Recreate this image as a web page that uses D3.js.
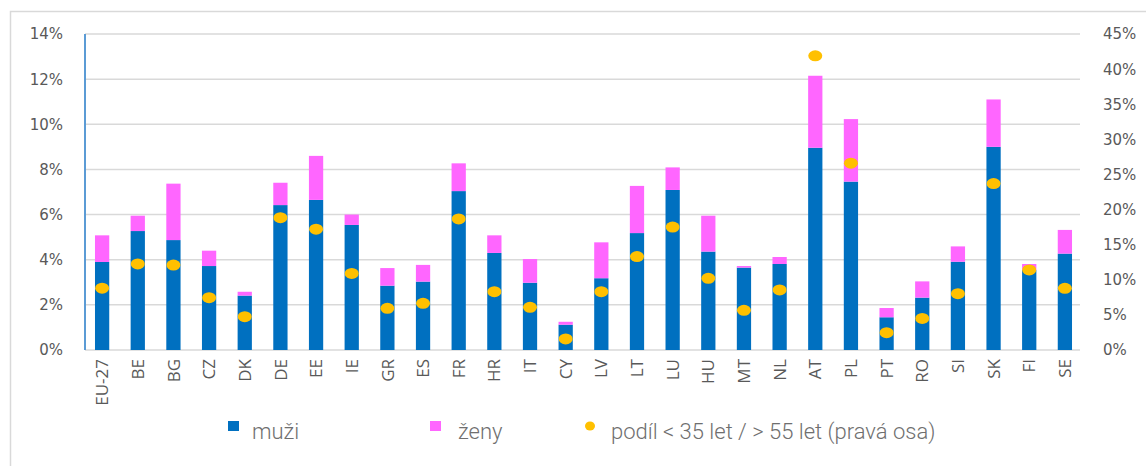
<!DOCTYPE html>
<html>
<head>
<meta charset="utf-8">
<script src="https://cdn.jsdelivr.net/npm/d3@7"></script>
<style>
  body { margin: 0; background: #fff; }
  .tick-label { font-family: "DejaVu Sans", Verdana, sans-serif; font-size: 15px; fill: #595959; }
  .cat-label { font-family: "Open Sans", sans-serif; font-size: 17px; fill: #595959; }
  .legend-label { font-family: "Roboto", sans-serif; font-weight: 300; font-size: 22px; fill: #6f6f6f; }
</style>
</head>
<body>
<div class="chart" style="width:1146px;height:466px"></div>
<script>
// categories and values (percent)
const countries = ["EU-27", "BE", "BG", "CZ", "DK", "DE", "EE", "IE", "GR", "ES", "FR", "HR", "IT", "CY",
    "LV", "LT", "LU", "HU", "MT", "NL", "AT", "PL", "PT", "RO", "SI", "SK", "FI", "SE"];
const muzi = [3.9, 5.27, 4.87, 3.72, 2.41, 6.42, 6.65, 5.54, 2.85, 3.03, 7.04, 4.3, 2.98, 1.12,
    3.18, 5.18, 7.09, 4.36, 3.65, 3.81, 8.96, 7.46, 1.45, 2.32, 3.91, 9.0, 3.54, 4.27];
const zeny = [1.18, 0.68, 2.5, 0.68, 0.17, 0.99, 1.95, 0.46, 0.78, 0.74, 1.23, 0.78, 1.05, 0.13,
    1.59, 2.09, 1.0, 1.59, 0.07, 0.31, 3.19, 2.77, 0.41, 0.72, 0.68, 2.1, 0.27, 1.05];
const podil = [8.8, 12.25, 12.1, 7.45, 4.75, 18.85, 17.2, 10.9, 5.93, 6.65, 18.66, 8.3, 6.08, 1.57,
    8.3, 13.3, 17.5, 10.2, 5.65, 8.55, 41.9, 26.6, 2.47, 4.5, 8.02, 23.7, 11.4, 8.78];
const leftTicks = [0, 2, 4, 6, 8, 10, 12, 14];
const rightTicks = [0, 5, 10, 15, 20, 25, 30, 35, 40, 45];

function init() {
    let margin = { top: 34, right: 64, bottom: 116, left: 85 };
    let fullWidth = 1146, fullHeight = 466;
    let width = 1082 - margin.left;
    let height = fullHeight - margin.top - margin.bottom;

    let svg = d3.select(".chart").append("svg")
        .attr("width", fullWidth)
        .attr("height", fullHeight);

    // outer frame of the original picture
    svg.append("path")
        .attr("d", "M10.5,466 V11.5 H1146")
        .attr("fill", "none")
        .attr("stroke", "#d9d9d9")
        .attr("stroke-width", 1.5);

    let plot = svg.append("g").attr("transform", `translate(${margin.left},${margin.top})`);

    let xScale = d3.scaleBand()
        .domain(countries)
        .range([0, width])
        .paddingInner(0.6)
        .paddingOuter(0.28);

    let yLeft = d3.scaleLinear().domain([0, 14]).range([height, 0]);
    let yRight = d3.scaleLinear().domain([0, 45]).range([height, 0]);

    // gridlines
    plot.append("g").selectAll("line")
        .data(leftTicks)
        .join("line")
        .attr("x1", 0)
        .attr("x2", width - 2)
        .attr("y1", d => yLeft(d))
        .attr("y2", d => yLeft(d))
        .attr("stroke", "#d9d9d9")
        .attr("stroke-width", 1.5);

    // left axis labels
    plot.append("g").selectAll("text")
        .data(leftTicks)
        .join("text")
        .attr("class", "tick-label")
        .attr("x", -22)
        .attr("y", d => yLeft(d))
        .attr("dy", "0.36em")
        .attr("text-anchor", "end")
        .text(d => d + "%");

    // right axis labels
    plot.append("g").selectAll("text")
        .data(rightTicks)
        .join("text")
        .attr("class", "tick-label")
        .attr("x", 1103 - margin.left)
        .attr("y", d => yRight(d))
        .attr("dy", "0.36em")
        .attr("text-anchor", "start")
        .text(d => d + "%");

    // stacked bars
    let stackData = countries.map((c, i) => ({ c: c, muzi: muzi[i], zeny: zeny[i] }));
    let series = d3.stack().keys(["muzi", "zeny"])(stackData);
    let colors = { muzi: "#0070c0", zeny: "#ff66ff" };

    plot.append("g").selectAll("g")
        .data(series)
        .join("g")
        .attr("fill", d => colors[d.key])
        .selectAll("rect")
        .data(d => d)
        .join("rect")
        .attr("x", d => xScale(d.data.c))
        .attr("width", xScale.bandwidth())
        .attr("y", d => yLeft(d[1]))
        .attr("height", d => yLeft(d[0]) - yLeft(d[1]));

    // left axis line
    plot.append("line")
        .attr("x1", 0).attr("x2", 0)
        .attr("y1", 0).attr("y2", height)
        .attr("stroke", "#5b9bd5")
        .attr("stroke-width", 2);

    // dots (right axis)
    plot.append("g").selectAll("ellipse")
        .data(podil)
        .join("ellipse")
        .attr("cx", (d, i) => xScale(countries[i]) + xScale.bandwidth() / 2)
        .attr("cy", d => yRight(d))
        .attr("rx", 7)
        .attr("ry", 5.5)
        .attr("fill", "#ffc000");

    // category labels
    plot.append("g").selectAll("text")
        .data(countries)
        .join("text")
        .attr("class", "cat-label")
        .attr("transform", d => `translate(${xScale(d) + xScale.bandwidth() / 2},${height + 9}) rotate(-90)`)
        .attr("dy", "0.36em")
        .attr("text-anchor", "end")
        .text(d => d);

    // legend
    let legend = svg.append("g");
    legend.append("rect").attr("x", 228).attr("y", 421).attr("width", 11).attr("height", 10).attr("fill", colors.muzi);
    legend.append("text").attr("class", "legend-label").attr("x", 252).attr("y", 439).text("muži");
    legend.append("rect").attr("x", 430).attr("y", 421).attr("width", 11).attr("height", 10).attr("fill", colors.zeny);
    legend.append("text").attr("class", "legend-label").attr("x", 458).attr("y", 439).text("ženy");
    legend.append("ellipse").attr("cx", 590).attr("cy", 426).attr("rx", 5).attr("ry", 4.5).attr("fill", "#ffc000");
    legend.append("text").attr("class", "legend-label").attr("x", 611).attr("y", 439).text("podíl < 35 let / > 55 let (pravá osa)");
}

init();
</script>
</body>
</html>
